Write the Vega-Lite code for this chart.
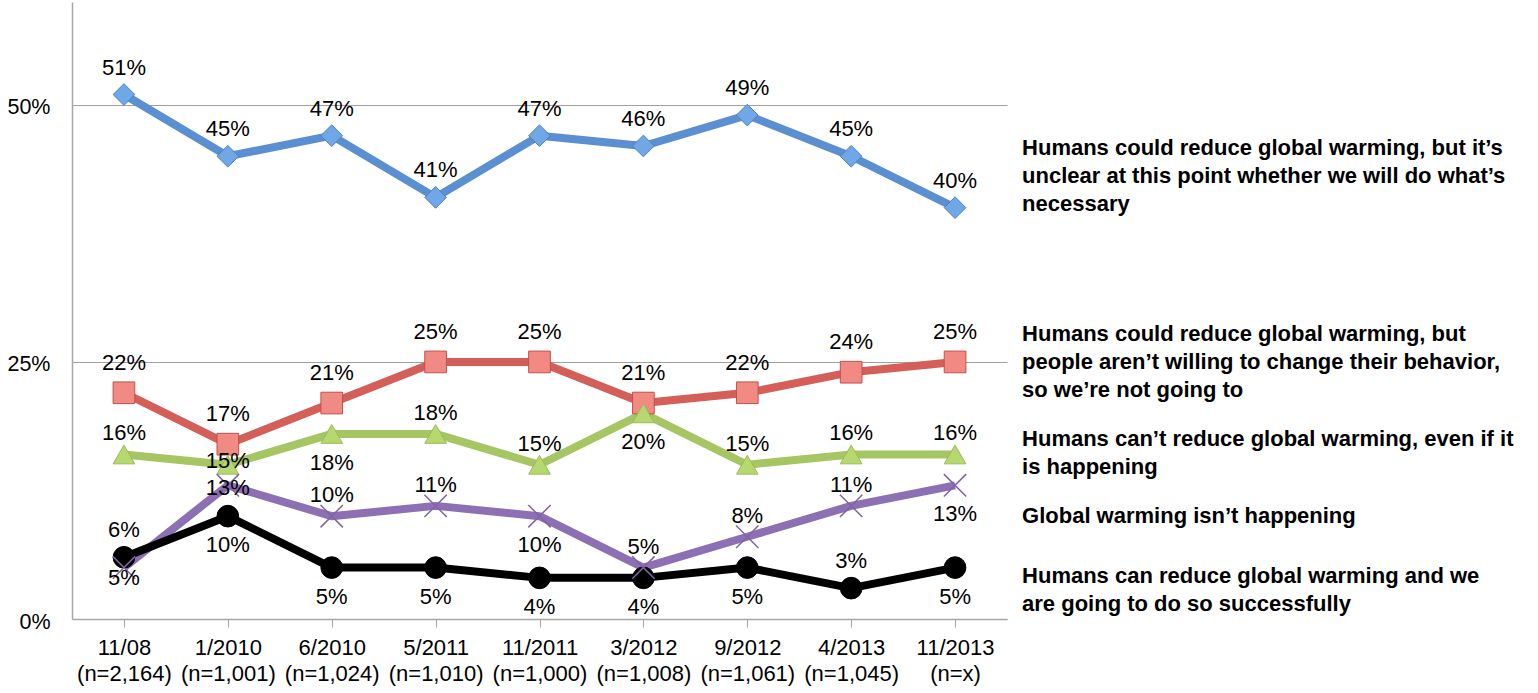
{
  "$schema": "https://vega.github.io/schema/vega-lite/v6.json",
  "autosize": "none",
  "width": 935,
  "height": 617,
  "padding": {"left": 72, "top": 2, "right": 531, "bottom": 74},
  "background": "white",
  "config": {"view": {"stroke": null}, "font": "Liberation Sans"},
  "params": [
    {"name": "nlab", "value": {"11/08": "(n=2,164)", "1/2010": "(n=1,001)", "6/2010": "(n=1,024)", "5/2011": "(n=1,010)", "11/2011": "(n=1,000)", "3/2012": "(n=1,008)", "9/2012": "(n=1,061)", "4/2013": "(n=1,045)", "11/2013": "(n=x)"}}
  ],
  "datasets": {
    "survey": [
      {"s": "unclear", "d": "11/08", "v": 0.51}, {"s": "unclear", "d": "1/2010", "v": 0.45}, {"s": "unclear", "d": "6/2010", "v": 0.47}, {"s": "unclear", "d": "5/2011", "v": 0.41}, {"s": "unclear", "d": "11/2011", "v": 0.47}, {"s": "unclear", "d": "3/2012", "v": 0.46}, {"s": "unclear", "d": "9/2012", "v": 0.49}, {"s": "unclear", "d": "4/2013", "v": 0.45}, {"s": "unclear", "d": "11/2013", "v": 0.40},
      {"s": "unwilling", "d": "11/08", "v": 0.22}, {"s": "unwilling", "d": "1/2010", "v": 0.17}, {"s": "unwilling", "d": "6/2010", "v": 0.21}, {"s": "unwilling", "d": "5/2011", "v": 0.25}, {"s": "unwilling", "d": "11/2011", "v": 0.25}, {"s": "unwilling", "d": "3/2012", "v": 0.21}, {"s": "unwilling", "d": "9/2012", "v": 0.22}, {"s": "unwilling", "d": "4/2013", "v": 0.24}, {"s": "unwilling", "d": "11/2013", "v": 0.25},
      {"s": "cant", "d": "11/08", "v": 0.16}, {"s": "cant", "d": "1/2010", "v": 0.15}, {"s": "cant", "d": "6/2010", "v": 0.18}, {"s": "cant", "d": "5/2011", "v": 0.18}, {"s": "cant", "d": "11/2011", "v": 0.15}, {"s": "cant", "d": "3/2012", "v": 0.20}, {"s": "cant", "d": "9/2012", "v": 0.15}, {"s": "cant", "d": "4/2013", "v": 0.16}, {"s": "cant", "d": "11/2013", "v": 0.16},
      {"s": "not", "d": "11/08", "v": 0.05}, {"s": "not", "d": "1/2010", "v": 0.13}, {"s": "not", "d": "6/2010", "v": 0.10}, {"s": "not", "d": "5/2011", "v": 0.11}, {"s": "not", "d": "11/2011", "v": 0.10}, {"s": "not", "d": "3/2012", "v": 0.05}, {"s": "not", "d": "9/2012", "v": 0.08}, {"s": "not", "d": "4/2013", "v": 0.11}, {"s": "not", "d": "11/2013", "v": 0.13},
      {"s": "will", "d": "11/08", "v": 0.06}, {"s": "will", "d": "1/2010", "v": 0.10}, {"s": "will", "d": "6/2010", "v": 0.05}, {"s": "will", "d": "5/2011", "v": 0.05}, {"s": "will", "d": "11/2011", "v": 0.04}, {"s": "will", "d": "3/2012", "v": 0.04}, {"s": "will", "d": "9/2012", "v": 0.05}, {"s": "will", "d": "4/2013", "v": 0.03}, {"s": "will", "d": "11/2013", "v": 0.05}
    ],
    "notes": [
      {"s": "unclear", "d": "11/2013", "at": 0.468, "text": "Humans could reduce global warming, but it’s\nunclear at this point whether we will do what’s\nnecessary"},
      {"s": "unwilling", "d": "11/2013", "at": 0.287, "text": "Humans could reduce global warming, but\npeople aren’t willing to change their behavior,\nso we’re not going to"},
      {"s": "cant", "d": "11/2013", "at": 0.185, "text": "Humans can’t reduce global warming, even if it\nis happening"},
      {"s": "not", "d": "11/2013", "at": 0.110, "text": "Global warming isn’t happening"},
      {"s": "will", "d": "11/2013", "at": 0.052, "text": "Humans can reduce global warming and we\nare going to do so successfully"}
    ]
  },
  "data": {"name": "survey"},
  "encoding": {
    "x": {
      "field": "d", "type": "nominal", "sort": null,
      "scale": {"type": "point", "padding": 0.5},
      "axis": {
        "title": null, "labelAngle": 0, "labelExpr": "[datum.label, nlab[datum.label]]",
        "labelFontSize": 22, "labelColor": "#000000", "labelLineHeight": 26, "labelPadding": 10,
        "labelOverlap": false, "labelLimit": 300,
        "domainColor": "#a6a6a6", "domainWidth": 1.5, "ticks": true, "tickColor": "#a6a6a6", "tickSize": 8, "tickWidth": 1, "grid": false
      }
    },
    "y": {
      "field": "v", "type": "quantitative",
      "scale": {"domain": [0, 0.6], "nice": false, "zero": true},
      "axis": {
        "title": null, "values": [0, 0.25, 0.5], "format": ".0%",
        "labelFontSize": 21.5, "labelColor": "#000000", "labelPadding": 22, "labelOffset": 3,
        "ticks": false, "domainColor": "#a6a6a6", "domainWidth": 1.5,
        "grid": true, "gridColor": "#a0a0a0", "gridWidth": 1
      }
    }
  },
  "layer": [
    {
      "mark": {"type": "line", "strokeWidth": 8, "strokeJoin": "round"},
      "encoding": {
        "color": {
          "field": "s", "type": "nominal", "legend": null,
          "scale": {"domain": ["unclear", "unwilling", "cant", "not", "will"], "range": ["#5a8fd2", "#d35f58", "#a6c563", "#8d6fb4", "#000000"]}
        }
      }
    },
    {
      "transform": [{"filter": "datum.s !== 'not'"}],
      "mark": {"type": "point", "filled": true, "size": 470, "strokeWidth": 1, "opacity": 1},
      "encoding": {
        "shape": {"field": "s", "type": "nominal", "legend": null,
          "scale": {"domain": ["unclear", "unwilling", "cant", "will"], "range": ["diamond", "square", "triangle-up", "circle"]}},
        "fill": {"field": "s", "type": "nominal", "legend": null,
          "scale": {"domain": ["unclear", "unwilling", "cant", "will"], "range": ["#70a7e6", "#f28a84", "#b7d86f", "#000000"]}},
        "stroke": {"field": "s", "type": "nominal", "legend": null,
          "scale": {"domain": ["unclear", "unwilling", "cant", "will"], "range": ["#4f81bd", "#c0504d", "#9bbb59", "#000000"]}}
      }
    },
    {
      "transform": [{"filter": "datum.s === 'not'"}],
      "mark": {"type": "point", "shape": "M-1,-1L1,1M-1,1L1,-1", "filled": false, "size": 500, "strokeWidth": 1.5, "color": "#8064a2", "opacity": 1}
    },
    {
      "transform": [{"filter": "(datum.s === 'unclear' || datum.s === 'will') && indexof(['will|1/2010','will|6/2010','will|5/2011','will|11/2011','will|3/2012','will|9/2012','will|11/2013'], datum.s + '|' + datum.d) < 0"}],
      "mark": {"type": "text", "fontSize": 22, "color": "#000000", "align": "center", "baseline": "middle", "dy": -27},
      "encoding": {"text": {"field": "v", "type": "quantitative", "format": ".0%"}}
    },
    {
      "transform": [{"filter": "datum.s === 'unwilling'"}],
      "mark": {"type": "text", "fontSize": 22, "color": "#000000", "align": "center", "baseline": "middle", "dy": -30},
      "encoding": {"text": {"field": "v", "type": "quantitative", "format": ".0%"}}
    },
    {
      "transform": [{"filter": "(datum.s === 'cant' || datum.s === 'not') && indexof(['cant|6/2010','cant|3/2012','cant|1/2010','not|11/08','not|1/2010','not|11/2011','not|11/2013'], datum.s + '|' + datum.d) < 0"}],
      "mark": {"type": "text", "fontSize": 22, "color": "#000000", "align": "center", "baseline": "middle", "dy": -21},
      "encoding": {"text": {"field": "v", "type": "quantitative", "format": ".0%"}}
    },
    {
      "transform": [{"filter": "indexof(['cant|6/2010','cant|3/2012','not|11/2011','not|11/2013','will|1/2010','will|6/2010','will|5/2011','will|11/2011','will|3/2012','will|9/2012','will|11/2013'], datum.s + '|' + datum.d) >= 0"}],
      "mark": {"type": "text", "fontSize": 22, "color": "#000000", "align": "center", "baseline": "middle", "dy": 29},
      "encoding": {"text": {"field": "v", "type": "quantitative", "format": ".0%"}}
    },
    {
      "transform": [{"filter": "datum.s === 'cant' && datum.d === '1/2010'"}],
      "mark": {"type": "text", "fontSize": 22, "color": "#000000", "align": "center", "baseline": "middle", "dy": -4},
      "encoding": {"text": {"field": "v", "type": "quantitative", "format": ".0%"}}
    },
    {
      "transform": [{"filter": "datum.s === 'not' && datum.d === '1/2010'"}],
      "mark": {"type": "text", "fontSize": 22, "color": "#000000", "align": "center", "baseline": "middle", "dy": 3},
      "encoding": {"text": {"field": "v", "type": "quantitative", "format": ".0%"}}
    },
    {
      "transform": [{"filter": "datum.s === 'not' && datum.d === '11/08'"}],
      "mark": {"type": "text", "fontSize": 22, "color": "#000000", "align": "center", "baseline": "middle", "dy": 10},
      "encoding": {"text": {"field": "v", "type": "quantitative", "format": ".0%"}}
    },
    {
      "data": {"name": "notes"},
      "mark": {"type": "text", "fontSize": 22, "fontWeight": "bold", "color": "#000000", "align": "left", "baseline": "top", "dx": 67, "lineBreak": "\n", "lineHeight": 28},
      "encoding": {
        "y": {"field": "at", "type": "quantitative"},
        "text": {"field": "text", "type": "nominal"}
      }
    }
  ]
}
